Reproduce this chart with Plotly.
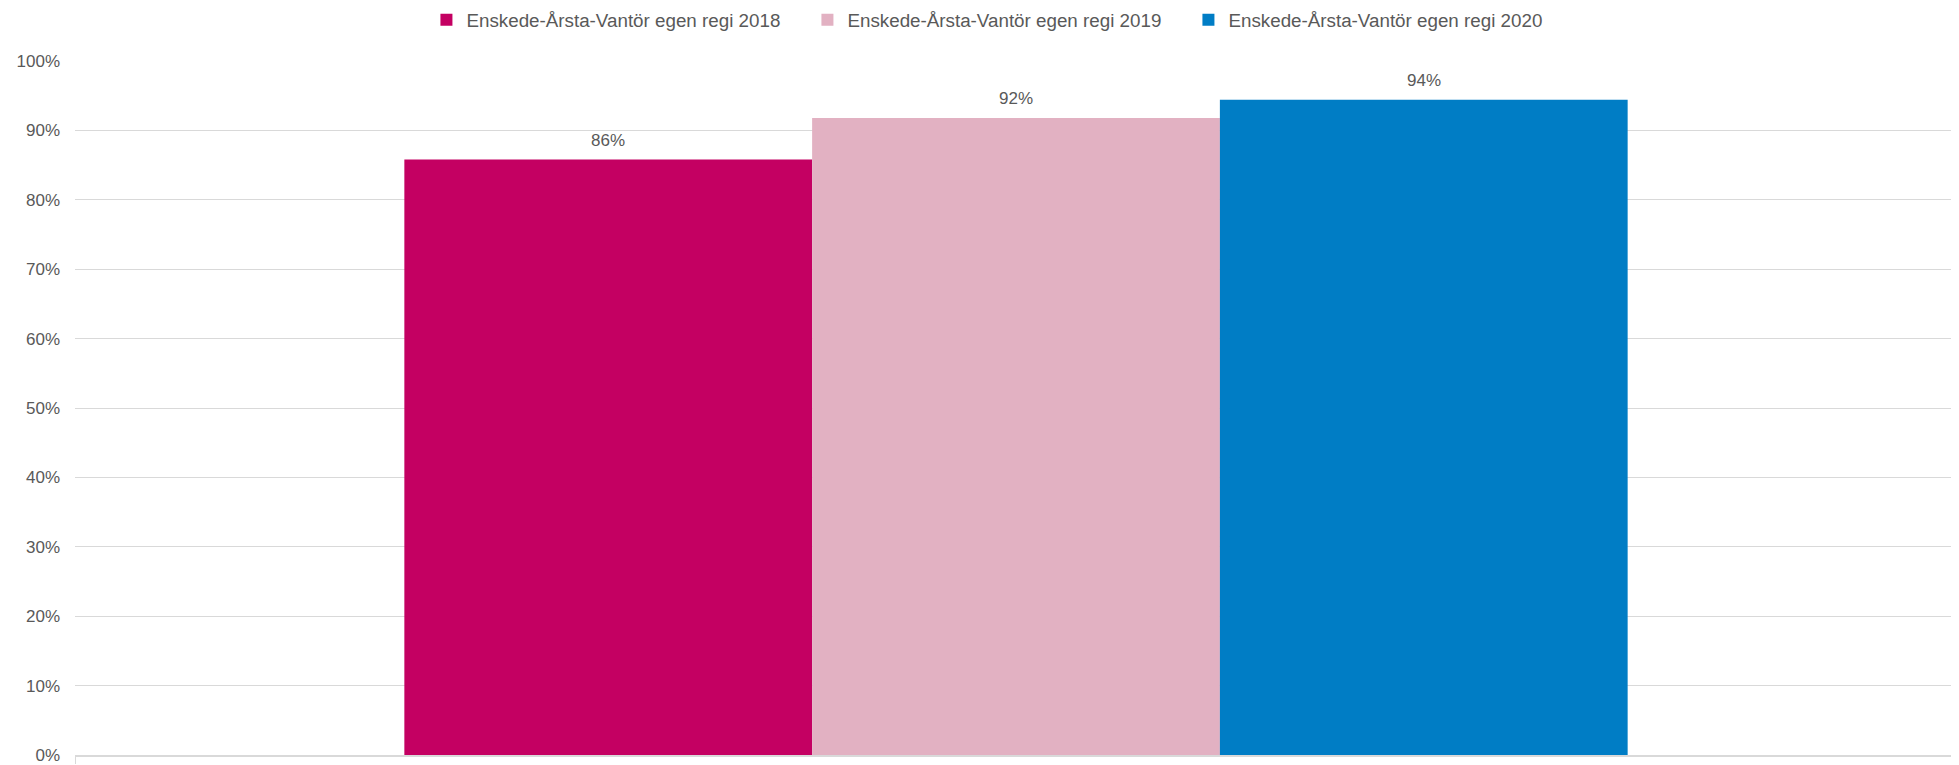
import plotly.graph_objects as go

series_names = ["Enskede-Årsta-Vantör egen regi 2018",
                "Enskede-Årsta-Vantör egen regi 2019",
                "Enskede-Årsta-Vantör egen regi 2020"]
values = [0.858, 0.918, 0.944]
labels = ["86%", "92%", "94%"]
colors = ["#C40062", "#E2B1C2", "#007DC5"]
category = ["Enskede-Årsta-Vantör egen regi"]

FONT = "Liberation Sans, Arial, sans-serif"
TXT = "#595959"
bargap = 0.35
BODY = 8  # default page body margin

fig = go.Figure()
for name, v, c in zip(series_names, values, colors):
    fig.add_trace(go.Bar(x=category, y=[v], name=name, marker_color=c,
                         marker_line_width=0, hoverinfo="skip"))

n = len(values)
w = (1 - bargap) / n
annotations = []
for i, (v, lab) in enumerate(zip(values, labels)):
    annotations.append(dict(x=(i - (n - 1) / 2) * w, y=v, xref="x", yref="y",
                            text=lab, showarrow=False, yanchor="bottom",
                            yshift=8, font=dict(family=FONT, size=17, color=TXT)))

fig.update_layout(
    width=1959 - BODY, height=765 - BODY,
    paper_bgcolor="white", plot_bgcolor="white",
    margin=dict(l=75 - BODY, r=2, t=61 - BODY, b=10, autoexpand=False),
    barmode="group", bargap=bargap, bargroupgap=0,
    font=dict(family=FONT, size=17, color=TXT),
    showlegend=True,
    legend=dict(orientation="h", x=0.4904, xref="paper", xanchor="center",
                y=1 - (20 - BODY) / (765 - BODY), yref="container", yanchor="middle",
                font=dict(family=FONT, size=18.8, color=TXT),
                entrywidth=336, entrywidthmode="pixels", itemwidth=30,
                traceorder="normal"),
    annotations=annotations,
)
fig.update_xaxes(showticklabels=False, showline=True, linecolor="#d9d9d9",
                 linewidth=1.5, ticks="outside", tickson="boundaries",
                 ticklen=7, tickcolor="#d9d9d9", showgrid=False)
fig.update_yaxes(range=[0, 1], dtick=0.1, tickformat=".0%", showgrid=True,
                 gridcolor="#d9d9d9", gridwidth=1, zeroline=False,
                 showline=False, ticks="", ticklabelstandoff=14,
                 ticklabeloverflow="allow",
                 tickfont=dict(family=FONT, size=17, color=TXT))

fig.write_html("out.html")
